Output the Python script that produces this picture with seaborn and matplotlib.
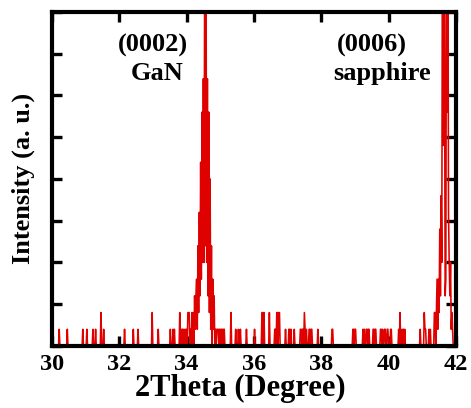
import numpy as np
import pandas as pd
import matplotlib
matplotlib.use("Agg")
import matplotlib.pyplot as plt
import seaborn as sns

# scan settings (2theta grid of the measurement)
SCAN_START = 30.0
SCAN_END = 42.0
SCAN_STEP = 0.02

# non-zero counts (2theta in degrees, counts)
noise_theta = [30.22, 30.46, 30.92, 31.04, 31.22, 31.30, 31.46, 31.54,
               32.16, 32.42, 32.56, 32.98, 33.16, 33.52, 33.60, 33.64,
               33.80, 33.86, 33.88, 33.92, 33.96, 34.00, 34.04, 34.06,
               34.08, 34.12, 34.16]
noise_counts = [1, 1, 1, 1, 1, 1, 2, 1,
                1, 1, 1, 2, 1, 1, 1, 1,
                2, 1, 1, 1, 1, 1, 2, 2,
                2, 1, 2]

gan_theta = [34.20, 34.22, 34.24, 34.26, 34.28, 34.30, 34.32, 34.34, 34.36,
             34.38, 34.40, 34.42, 34.44, 34.46, 34.48, 34.50, 34.52, 34.54,
             34.56, 34.58, 34.60, 34.62, 34.64, 34.66, 34.68, 34.70, 34.72,
             34.74, 34.76, 34.78, 34.80, 34.82, 34.84, 34.86]
gan_counts = [2, 0, 3, 1, 3, 4, 1, 6, 2,
              8, 3, 11, 4, 14, 5, 16, 5, 24,
              6, 22, 5, 16, 3, 14, 2, 10, 1,
              6, 0, 4, 1, 3, 0, 1]

mid_theta = [34.90, 34.92, 34.94, 34.98, 35.00, 35.04, 35.06, 35.10, 35.12,
             35.32, 35.46, 35.54, 35.60, 35.78, 36.02, 36.24, 36.26, 36.30,
             36.46, 36.62, 36.64, 36.68, 36.70, 36.74, 36.76, 36.94, 37.04,
             37.06, 37.10, 37.20, 37.38, 37.40, 37.44, 37.46, 37.50, 37.52,
             37.56, 37.64, 37.66, 37.70, 37.72, 37.90, 38.32, 38.34, 38.94,
             38.96, 39.00, 39.02, 39.24, 39.28, 39.34, 39.36, 39.40, 39.42,
             39.54, 39.56, 39.60, 39.62, 39.76, 39.78, 39.82, 39.88, 39.90,
             39.96, 39.98, 40.06, 40.08, 40.30, 40.34, 40.40, 40.44, 40.48,
             40.94, 41.06, 41.08, 41.10, 41.20, 41.24, 41.36, 41.38, 41.42]
mid_counts = [1, 1, 1, 1, 1, 1, 1, 1, 1,
              2, 1, 1, 1, 1, 1, 2, 2, 2,
              2, 1, 1, 2, 2, 2, 2, 1, 1,
              1, 1, 1, 1, 1, 1, 1, 2, 1,
              1, 1, 1, 1, 1, 1, 1, 1, 1,
              1, 1, 1, 1, 1, 1, 1, 1, 1,
              1, 1, 1, 1, 1, 1, 1, 1, 1,
              1, 1, 1, 1, 1, 2, 1, 1, 1,
              1, 2, 1, 1, 1, 1, 2, 2, 2]

sapphire_theta = [41.44, 41.46, 41.48, 41.50, 41.52, 41.54, 41.56, 41.58,
                  41.60, 41.62, 41.64, 41.66, 41.68, 41.70, 41.72, 41.74,
                  41.76, 41.78, 41.80, 41.82, 41.84, 41.86, 41.88, 41.90]
sapphire_counts = [4, 1, 4, 2, 7, 3, 9, 5,
                   26, 12, 26, 20, 3, 4, 26, 14,
                   26, 8, 5, 3, 5, 1, 2, 1]

# annotation lines, left edge in 2theta, top in counts
label_lines = ["(0002)", "GaN", "(0006)", "sapphire"]
label_x = [31.95, 32.33, 38.45, 38.36]
label_y = [18.7, 17.0, 18.7, 17.0]

RED = "#df0000"

# build the full scan profile (zero counts everywhere else)
grid = np.round(np.arange(SCAN_START, SCAN_END + SCAN_STEP / 2, SCAN_STEP), 2)
intensity = pd.Series(0.0, index=grid)
for th, c in zip(noise_theta + gan_theta + mid_theta + sapphire_theta,
                 noise_counts + gan_counts + mid_counts + sapphire_counts):
    intensity[round(th, 2)] = c
xrd = pd.DataFrame({"two_theta": grid, "intensity": intensity.values})

sns.set_style("ticks")
plt.rcParams["font.family"] = ["Liberation Serif", "DejaVu Serif"]
plt.rcParams["font.weight"] = "bold"
plt.rcParams["axes.labelweight"] = "bold"
plt.rcParams["text.color"] = "black"
plt.rcParams["axes.labelcolor"] = "black"
plt.rcParams["xtick.color"] = "black"
plt.rcParams["ytick.color"] = "black"
plt.rcParams["axes.edgecolor"] = "black"

fig = plt.figure(figsize=(4.71, 4.08), dpi=100)
ax = fig.add_axes([0.110, 0.152, 0.858, 0.819])

sns.lineplot(data=xrd, x="two_theta", y="intensity", color=RED,
             linewidth=1.15, ax=ax)

ax.set_xlim(30, 42)
ax.set_ylim(0, 20)
ax.set_xticks(np.arange(30, 43, 2))
ax.set_yticks(np.arange(0, 20.1, 2.5))
ax.set_yticklabels([])
ax.tick_params(direction="in", length=7, width=2.4, top=True, right=True,
               labelsize=17.5, pad=6)
for lab in ax.get_xticklabels():
    lab.set_fontweight("bold")
for sp in ax.spines.values():
    sp.set_linewidth(3.0)
    sp.set_visible(True)

ax.set_xlabel("2Theta (Degree)", fontsize=22, fontweight="bold", labelpad=0)
ax.xaxis.set_label_coords(0.466, -0.085)
ax.set_ylabel("Intensity (a. u.)", fontsize=19, fontweight="bold", labelpad=6)

for txt, x, y in zip(label_lines, label_x, label_y):
    ax.text(x, y, txt, ha="left", va="top", fontsize=19, fontweight="bold")

fig.savefig("out.png", dpi=100)
